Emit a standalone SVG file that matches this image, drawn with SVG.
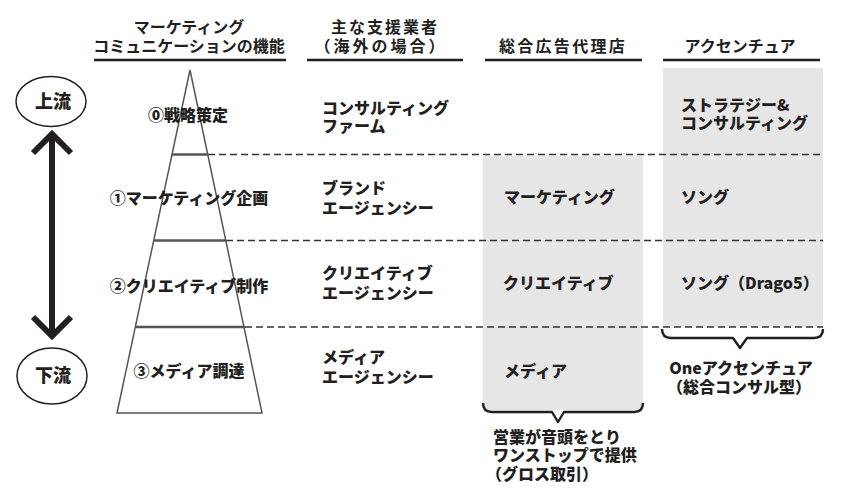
<svg xmlns="http://www.w3.org/2000/svg" width="850" height="502" viewBox="0 0 850 502">
<style>
text{font-family:'Noto Sans CJK JP','Noto Sans',sans-serif;font-weight:900;font-size:16px;fill:#231f20}
.h{font-weight:700}
.m{text-anchor:middle}
.ul{stroke:#231f20;stroke-width:2.5}
.dash{stroke:#333;stroke-width:1.3;stroke-dasharray:7 4;fill:none}
.box{fill:#e6e6e6}
.tri{fill:none;stroke:#555;stroke-width:1.5;stroke-linejoin:miter}
.tier{stroke:#555;stroke-width:2.4}
.brace{fill:none;stroke:#231f20;stroke-width:2.4;stroke-linejoin:round}
.oval{fill:#fff;stroke:#231f20;stroke-width:1.5}
.big{font-size:18px}
.arrow{fill:none;stroke:#231f20;stroke-width:6}
</style>
<rect width="850" height="502" fill="#fff"/>

<g id="boxes">
<rect class="box" x="483" y="156" width="160" height="254"/>
<rect class="box" x="663" y="68" width="160" height="259"/>
</g>

<g id="headers">
<text class="m h" x="189" y="33">マーケティング<tspan x="189" dy="19">コミュニケーションの機能</tspan></text>
<line class="ul" x1="94" y1="60" x2="286" y2="60"/>
<text class="m h" x="385" y="33" letter-spacing="2">主な支援業者<tspan x="381" dy="19" letter-spacing="3">（海外の場合）</tspan></text>
<line class="ul" x1="307" y1="60" x2="463" y2="60"/>
<text class="m h" x="563" y="52" letter-spacing="2.3">総合広告代理店</text>
<line class="ul" x1="485" y1="60" x2="642" y2="60"/>
<text class="m h" x="740" y="52">アクセンチュア</text>
<line class="ul" x1="663" y1="60" x2="820" y2="60"/>
</g>

<g id="flow">
<ellipse class="oval" cx="51" cy="101.5" rx="35" ry="25"/>
<text class="m big" x="53" y="108">上流</text>
<ellipse class="oval" cx="52" cy="376" rx="35" ry="28"/>
<text class="m big" x="53" y="382">下流</text>
</g>

<g id="connectors">
<line class="arrow" x1="52" y1="136" x2="52" y2="335"/>
<path class="arrow" d="M33,153 L52,134 L71,153"/>
<path class="arrow" d="M33,317 L52,336 L71,317"/>
<line class="dash" x1="208" y1="154.5" x2="823" y2="154.5"/>
<line class="dash" x1="226" y1="240.5" x2="823" y2="240.5"/>
<line class="dash" x1="245" y1="327" x2="823" y2="327"/>
<path class="brace" d="M483,403 Q483,412 492,412 L552,412 L558,422 L564,412 L634,412 Q643,412 643,403"/>
<path class="brace" d="M662,329 Q662,338 671,338 L733,338 L740,348 L747,338 L814,338 Q823,338 823,329"/>
</g>

<g id="pyramid">
<polygon class="tri" points="190,70 262,413 117,413"/>
<line class="tier" x1="172" y1="154.5" x2="208" y2="154.5"/>
<line class="tier" x1="154" y1="240.5" x2="226" y2="240.5"/>
<line class="tier" x1="136" y1="327" x2="245" y2="327"/>
</g>

<g id="row0">
<text class="m" x="188" y="121">⓪戦略策定</text>
<text x="322" y="113.5">コンサルティング<tspan x="322" dy="18">ファーム</tspan></text>
<text x="681" y="111">ストラテジー&amp;<tspan x="681" dy="18">コンサルティング</tspan></text>
</g>

<g id="row1">
<text class="m" x="189" y="204">①マーケティング企画</text>
<text x="322" y="194">ブランド<tspan x="322" dy="20">エージェンシー</tspan></text>
<text x="504" y="203">マーケティング</text>
<text x="681" y="203">ソング</text>
</g>

<g id="row2">
<text class="m" x="189" y="291.5">②クリエイティブ制作</text>
<text x="322" y="279">クリエイティブ<tspan x="322" dy="20">エージェンシー</tspan></text>
<text x="503" y="289">クリエイティブ</text>
<text x="681" y="289">ソング（Drago5）</text>
</g>

<g id="row3">
<text class="m" x="189" y="377">③メディア調達</text>
<text x="322" y="363">メディア<tspan x="322" dy="20">エージェンシー</tspan></text>
<text x="504" y="377">メディア</text>
</g>

<g id="notes">
<text class="m" x="741" y="374">Oneアクセンチュア<tspan x="739" dy="19">（総合コンサル型）</tspan></text>
<text x="493" y="443">営業が音頭をとり<tspan x="493" dy="18">ワンストップで提供</tspan><tspan x="486" dy="19">（グロス取引）</tspan></text>
</g>
</svg>
